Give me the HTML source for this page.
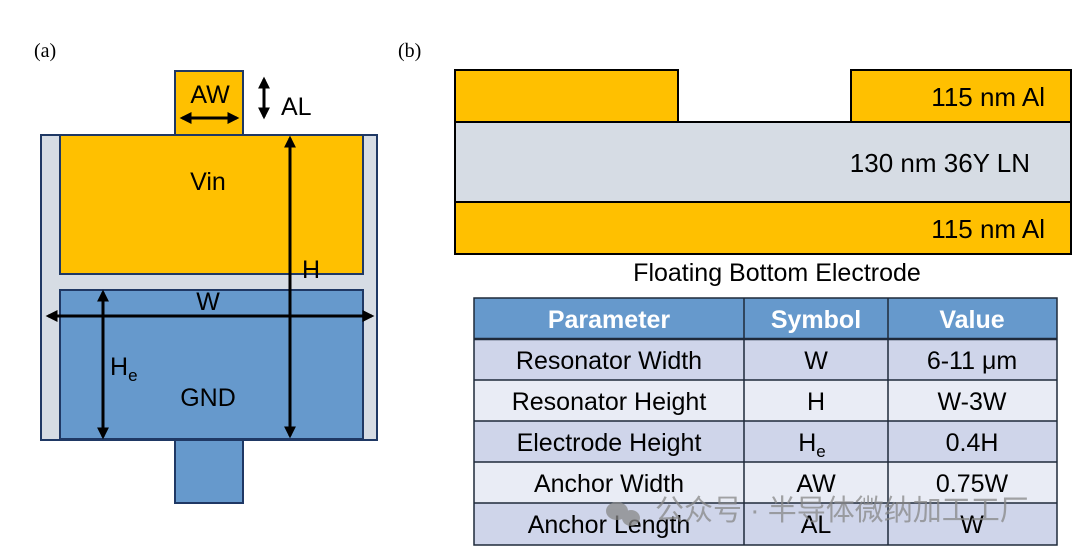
<!DOCTYPE html>
<html><head><meta charset="utf-8"><style>
html,body{margin:0;padding:0;background:#fff;}
svg{display:block;}
text{font-family:"Liberation Sans","Noto Sans CJK SC",sans-serif;}
</style></head><body>
<svg width="1078" height="550" viewBox="0 0 1078 550" xmlns="http://www.w3.org/2000/svg">
<defs>
<marker id="a" viewBox="0 0 10 10" refX="8" refY="5" markerWidth="4" markerHeight="4" orient="auto-start-reverse"><path d="M0,0 L10,5 L0,10 z" fill="#000"/></marker>
</defs>
<text x="34" y="57" font-size="20" style="font-family:'Liberation Serif',serif">(a)</text>
<text x="398" y="57" font-size="20" style="font-family:'Liberation Serif',serif">(b)</text>

<rect x="175" y="71" width="68" height="64" fill="#ffc000" stroke="#1f3864" stroke-width="2"/>
<rect x="41" y="135" width="336" height="305" fill="#d6dce4" stroke="#1f3864" stroke-width="2"/>
<rect x="60" y="135" width="303" height="139" fill="#ffc000" stroke="#1f3864" stroke-width="2"/>
<rect x="60" y="290" width="303" height="149" fill="#6699cc" stroke="#1f3864" stroke-width="2"/>
<rect x="175" y="440" width="68" height="63" fill="#6699cc" stroke="#1f3864" stroke-width="2"/>
<text x="210" y="103" font-size="25" text-anchor="middle">AW</text>
<line x1="182" y1="118" x2="237" y2="118" stroke="#000" stroke-width="3" marker-start="url(#a)" marker-end="url(#a)"/>
<line x1="264" y1="79" x2="264" y2="117" stroke="#000" stroke-width="3" marker-start="url(#a)" marker-end="url(#a)"/>
<text x="281" y="115" font-size="25">AL</text>
<text x="208" y="190" font-size="25" text-anchor="middle">Vin</text>
<text x="302" y="278" font-size="25">H</text>
<text x="208" y="310" font-size="25" text-anchor="middle">W</text>
<line x1="48" y1="316" x2="372" y2="316" stroke="#000" stroke-width="3" marker-start="url(#a)" marker-end="url(#a)"/>
<line x1="290" y1="138" x2="290" y2="436" stroke="#000" stroke-width="3" marker-start="url(#a)" marker-end="url(#a)"/>
<line x1="103" y1="292" x2="103" y2="437" stroke="#000" stroke-width="3" marker-start="url(#a)" marker-end="url(#a)"/>
<text x="110" y="375" font-size="25">H<tspan font-size="17" dy="6">e</tspan></text>
<text x="208" y="406" font-size="25" text-anchor="middle">GND</text>

<rect x="455" y="70" width="223" height="52" fill="#ffc000" stroke="#000" stroke-width="2"/>
<rect x="851" y="70" width="220" height="52" fill="#ffc000" stroke="#000" stroke-width="2"/>
<rect x="455" y="122" width="616" height="80" fill="#d6dce4" stroke="#000" stroke-width="2"/>
<rect x="455" y="202" width="616" height="52" fill="#ffc000" stroke="#000" stroke-width="2"/>
<text x="1045" y="106" font-size="26" text-anchor="end">115 nm Al</text>
<text x="1030" y="172" font-size="26" text-anchor="end">130 nm 36Y LN</text>
<text x="1045" y="238" font-size="26" text-anchor="end">115 nm Al</text>
<text x="777" y="281" font-size="25" text-anchor="middle">Floating Bottom Electrode</text>

<rect x="474" y="298" width="583" height="41" fill="#6699cc"/>
<rect x="474" y="339" width="583" height="41" fill="#cfd5ea"/>
<rect x="474" y="380" width="583" height="41" fill="#e9ecf5"/>
<rect x="474" y="421" width="583" height="41" fill="#cfd5ea"/>
<rect x="474" y="462" width="583" height="41" fill="#e9ecf5"/>
<rect x="474" y="503" width="583" height="42" fill="#cfd5ea"/>
<g stroke="#1f2a3a" stroke-width="1.5" fill="none">
<rect x="474" y="298" width="583" height="247"/>
<line x1="474" y1="339" x2="1057" y2="339" stroke-width="2.5"/>
<line x1="474" y1="380" x2="1057" y2="380"/>
<line x1="474" y1="421" x2="1057" y2="421"/>
<line x1="474" y1="462" x2="1057" y2="462"/>
<line x1="474" y1="503" x2="1057" y2="503"/>
<line x1="744" y1="298" x2="744" y2="545"/>
<line x1="888" y1="298" x2="888" y2="545"/>
</g>
<g font-size="25" text-anchor="middle">
<text x="609" y="328" fill="#fff" font-weight="bold">Parameter</text>
<text x="816" y="328" fill="#fff" font-weight="bold">Symbol</text>
<text x="972" y="328" fill="#fff" font-weight="bold">Value</text>
<text x="609" y="369">Resonator Width</text><text x="816" y="369">W</text><text x="972" y="369">6-11 μm</text>
<text x="609" y="410">Resonator Height</text><text x="816" y="410">H</text><text x="972" y="410">W-3W</text>
<text x="609" y="451">Electrode Height</text><text x="812" y="451">H<tspan font-size="17" dy="6">e</tspan></text><text x="972" y="451">0.4H</text>
<text x="609" y="492">Anchor Width</text><text x="816" y="492">AW</text><text x="972" y="492">0.75W</text>
<text x="609" y="533">Anchor Length</text><text x="816" y="533">AL</text><text x="972" y="533">W</text>
</g>
<g fill="#888" opacity="0.75">
<ellipse cx="617" cy="511" rx="11" ry="9"/>
<ellipse cx="631" cy="518" rx="9" ry="8"/>
</g>
<text x="655" y="520" font-size="29" fill="#888" opacity="0.75">公众号 · 半导体微纳加工工厂</text>
</svg>
</body></html>
